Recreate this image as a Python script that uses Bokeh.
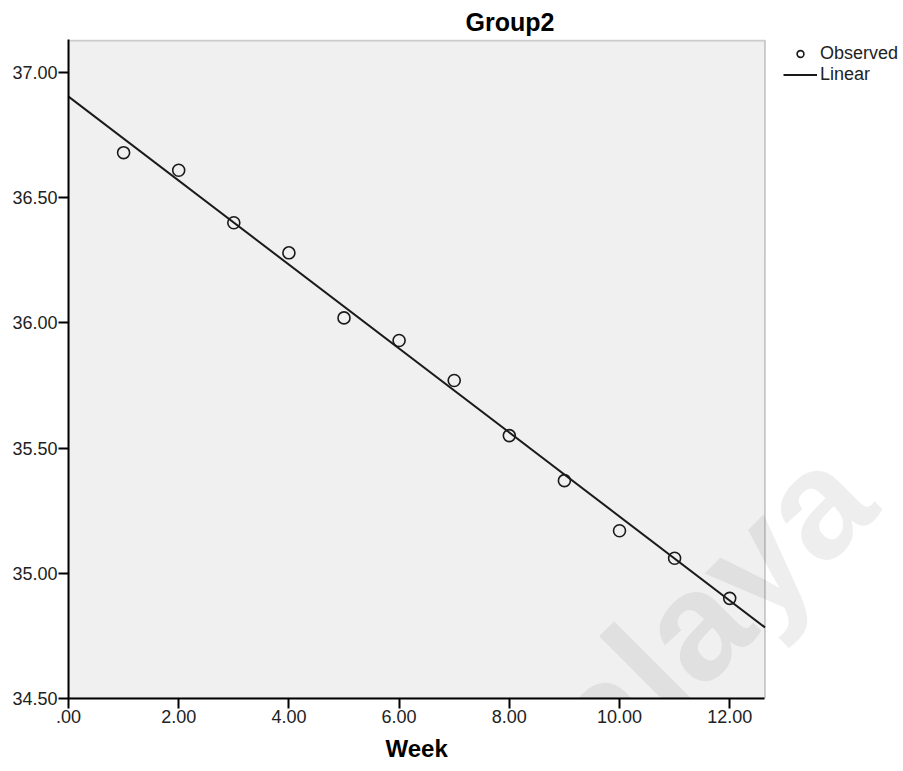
import math
from bokeh.plotting import figure
from bokeh.models import (FixedTicker, Legend, LegendItem, Label, Range1d, BoxAnnotation, Title)
from bokeh.embed import file_html
from bokeh.resources import INLINE

# ---- data ----
week = [1, 2, 3, 4, 5, 6, 7, 8, 9, 10, 11, 12]
observed = [36.68, 36.61, 36.40, 36.28, 36.02, 35.93, 35.77, 35.55, 35.37, 35.17, 35.06, 34.90]
linear_x = [0.0, 12.64]
linear_y = [36.904, 34.784]
x_ticks = [0, 2, 4, 6, 8, 10, 12]
x_tick_labels = [".00", "2.00", "4.00", "6.00", "8.00", "10.00", "12.00"]
y_ticks = [34.5, 35.0, 35.5, 36.0, 36.5, 37.0]
y_tick_labels = ["34.50", "35.00", "35.50", "36.00", "36.50", "37.00"]

FONT = "Liberation Sans"
X_MAX = 12.64      # right edge of the plot box
Y_MIN, Y_MAX = 34.5, 37.128

p = figure(width=903, height=771, output_backend="svg", toolbar_location=None,
           x_range=Range1d(0, 15.154), y_range=Range1d(Y_MIN, 37.132),
           min_border_left=68, min_border_right=0, min_border_top=39, min_border_bottom=73)

p.background_fill_color = "white"
p.border_fill_color = "white"
p.outline_line_color = None
p.xgrid.visible = False
p.ygrid.visible = False

# plot box (grey data area with its frame)
box = BoxAnnotation(left=0, right=X_MAX, bottom=Y_MIN, top=Y_MAX,
                    fill_color="#f0f0f0", fill_alpha=1.0,
                    line_color="#6a6a6a", line_width=2, level="underlay")
p.add_layout(box)

# title
p.title.text = "Group2"
p.title.text_font = FONT
p.title.text_font_size = "25px"
p.title.text_font_style = "bold"
p.title.text_color = "black"
p.title.align = "left"
p.title.offset = 397
p.title.standoff = 7

# axes
for ax in (p.xaxis[0], p.yaxis[0]):
    ax.axis_line_color = "black"
    ax.axis_line_width = 2
    ax.major_tick_line_color = "black"
    ax.major_tick_line_width = 2
    ax.major_tick_out = 10
    ax.major_tick_in = 0
    ax.minor_tick_line_color = None
    ax.major_label_text_font = FONT
    ax.major_label_text_font_size = "18px"
    ax.major_label_text_color = "#222222"

p.xaxis.bounds = (0, X_MAX)
p.xaxis.ticker = FixedTicker(ticks=x_ticks)
p.xaxis.major_label_overrides = {t: l for t, l in zip(x_ticks, x_tick_labels)}
p.yaxis.ticker = FixedTicker(ticks=y_ticks)
p.yaxis.major_label_overrides = {t: l for t, l in zip(y_ticks, y_tick_labels)}
p.xaxis.major_label_standoff = 1
p.yaxis.major_label_standoff = 1

# x-axis title, centred under the plot box
xlab = Title(text="Week", align="left", offset=317, standoff=15,
             text_font=FONT, text_font_size="24px", text_font_style="bold",
             text_color="black")
p.add_layout(xlab, "below")

# watermark
wm = Label(x=7.50, y=33.949, text="Malaya", angle=math.radians(45),
           text_font=FONT, text_font_size="154px", text_font_style="bold",
           text_color="black", text_alpha=0.065,
           text_align="left", text_baseline="alphabetic", level="underlay")
p.add_layout(wm)

# glyphs
lin = p.line(linear_x, linear_y, line_color="#1a1a1a", line_width=2)
obs = p.scatter(week, observed, marker="circle", size=12, fill_alpha=0,
                line_color="#1a1a1a", line_width=1.6)

legend = Legend(items=[LegendItem(label="Observed", renderers=[obs]),
                       LegendItem(label="Linear", renderers=[lin])],
                location=(715, 613), margin=0, padding=0, spacing=0,
                border_line_color=None, background_fill_alpha=0,
                label_text_font=FONT, label_text_font_size="18px",
                label_text_color="#222222",
                glyph_width=34, glyph_height=17, label_height=17,
                label_standoff=3)
p.add_layout(legend)

open("out.html", "w").write(file_html(p, INLINE))
